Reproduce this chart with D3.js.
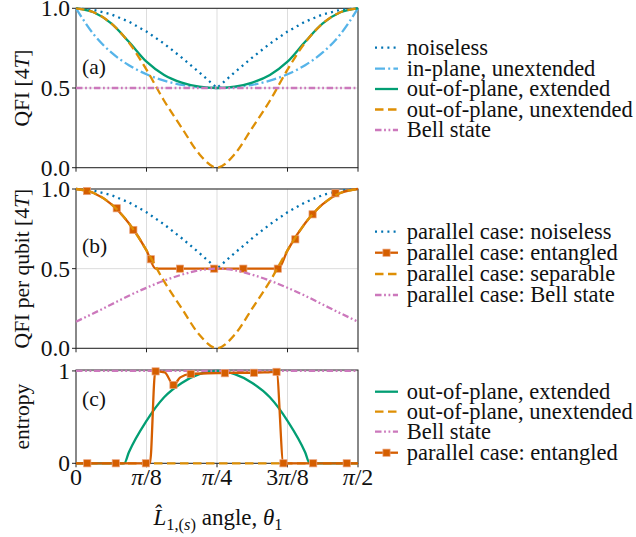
<!DOCTYPE html>
<meta charset="utf-8">
<style>
body { margin: 0; background: white; }
text { font-family: "Liberation Serif", "Times New Roman", serif; fill: #111; }
</style>
<body>
<script src="https://d3js.org/d3.v7.min.js"></script>
<script>
var width = 636,
    height = 537;

// shared angle grid, degrees (0 .. pi/2)
var thetaDeg = [0, 5.625, 11.25, 16.875, 22.5, 28.125, 33.75, 39.375, 45,
                50.625, 56.25, 61.875, 67.5, 73.125, 78.75, 84.375, 90];

// panel (a)
var noiselessA = [1, 0.990, 0.962, 0.916, 0.854, 0.778, 0.691, 0.598, 0.5, 0.598, 0.691, 0.778, 0.854, 0.916, 0.962, 0.990, 1];
var inPlaneUnext = [1, 0.837, 0.723, 0.643, 0.586, 0.546, 0.520, 0.505, 0.5, 0.505, 0.520, 0.546, 0.586, 0.643, 0.723, 0.837, 1];
var outPlaneExt = [1, 0.975, 0.905, 0.79, 0.665, 0.582, 0.534, 0.508, 0.5, 0.508, 0.534, 0.582, 0.665, 0.79, 0.905, 0.975, 1];
var outPlaneUnext = [1, 0.975, 0.905, 0.785, 0.615, 0.42, 0.25, 0.085, 0, 0.085, 0.25, 0.42, 0.615, 0.785, 0.905, 0.975, 1];
var bellA = [0.5, 0.5, 0.5, 0.5, 0.5, 0.5, 0.5, 0.5, 0.5, 0.5, 0.5, 0.5, 0.5, 0.5, 0.5, 0.5, 0.5];

// panel (b)
var noiselessB = [1, 0.990, 0.962, 0.916, 0.854, 0.778, 0.691, 0.598, 0.5, 0.598, 0.691, 0.778, 0.854, 0.916, 0.962, 0.990, 1];
var separableB = [1, 0.975, 0.905, 0.785, 0.615, 0.42, 0.25, 0.085, 0, 0.085, 0.25, 0.42, 0.615, 0.785, 0.905, 0.975, 1];
var bellB = [0.167, 0.22, 0.275, 0.33, 0.38, 0.425, 0.462, 0.49, 0.5, 0.49, 0.462, 0.425, 0.38, 0.33, 0.275, 0.22, 0.167];
var entThetaB = [0, 5.625, 11.25, 16.875, 22.5, 25.4, 33.2, 44.1, 53.4, 64.6, 67.5, 73.125, 78.75, 84.375, 90];
var entValB = [1, 0.975, 0.905, 0.785, 0.615, 0.5, 0.5, 0.5, 0.5, 0.5, 0.615, 0.785, 0.905, 0.975, 1];
var entMarkThetaB = [3.5, 13.0, 18.3, 23.9, 33.2, 44.1, 53.4, 64.4, 70.0, 75.5, 82.8];
var entMarkValB = [0.987, 0.879, 0.743, 0.559, 0.5, 0.5, 0.5, 0.5, 0.684, 0.841, 0.973];

// panel (c)
var outExtThetaC = [0, 15.4, 16.875, 22.5, 28.125, 33.75, 39.375, 45, 50.625, 56.25, 61.875, 67.5, 73.125, 74.6, 90];
var outExtValC = [0, 0, 0.12, 0.46, 0.715, 0.87, 0.965, 1, 0.965, 0.87, 0.715, 0.46, 0.12, 0, 0];
var outUnextC = [0, 0, 0, 0, 0, 0, 0, 0, 0, 0, 0, 0, 0, 0, 0, 0, 0];
var bellC = [1, 1, 1, 1, 1, 1, 1, 1, 1, 1, 1, 1, 1, 1, 1, 1, 1];
var entThetaC = [0, 3.6, 12.7, 22.3, 23.6, 25.3, 28.3, 31.1, 33.3, 36.6, 42, 47.5, 52, 56.8, 61, 64.0, 66.2, 75.7, 86.4, 90];
var entValC = [0, 0, 0, 0, 0, 0.995, 0.985, 0.848, 0.93, 0.967, 0.975, 0.977, 0.98, 0.98, 0.985, 0.99, 0, 0, 0, 0];
var entMarkThetaC = [3.6, 12.7, 22.3, 25.4, 31.1, 36.6, 47.5, 56.8, 64.0, 66.2, 75.7, 86.4];
var entMarkValC = [0, 0, 0, 0.995, 0.848, 0.967, 0.975, 0.98, 0.99, 0, 0, 0];

var xTickVals = [0, 22.5, 45, 67.5, 90];
var xTickLabels = [["", "0"], ["π", "/8"], ["π", "/4"], ["3π", "/8"], ["π", "/2"]];

var C = {
  blue: "#0173b2", lightblue: "#56b4e9", green: "#029e73",
  orange: "#de8f05", red: "#d55e00", pink: "#cc78bc"
};
var styles = {
  dotted:  { color: C.blue, dash: "2,4.2" },
  dashdot: { color: C.lightblue, dash: "10,3.2,2,3.2" },
  solidG:  { color: C.green, dash: null },
  dashed:  { color: C.orange, dash: "8.5,4.5" },
  bell:    { color: C.pink, dash: "6.5,2.6,1.8,2.6,1.8,2.6" },
  ent:     { color: C.red, dash: null, marker: true }
};

var svg = d3.select("body").append("svg")
    .attr("width", width)
    .attr("height", height);

var x = d3.scaleLinear().domain([0, 90]).range([76, 358]);

var panels = [
  { y: d3.scaleLinear().domain([0, 1]).range([167.7, 8.3]), top: 8.3, bottom: 167.7,
    ticks: [0, 0.5, 1], fmt: d3.format(".1f"), tag: "(a)", tagY: 74,
    ylabel: [["QFI [4", ""], ["T", "i"], ["]", ""]] },
  { y: d3.scaleLinear().domain([0, 1]).range([348.3, 189]), top: 189, bottom: 348.3,
    ticks: [0, 0.5, 1], fmt: d3.format(".1f"), tag: "(b)", tagY: 253,
    ylabel: [["QFI per qubit [4", ""], ["T", "i"], ["]", ""]] },
  { y: d3.scaleLinear().domain([0, 1.01]).range([463.3, 370]), top: 370, bottom: 463.3,
    ticks: [0, 1], fmt: d3.format("d"), tag: "(c)", tagY: 406,
    ylabel: [["entropy", ""]] }
];

function drawLine(g, p, xs, ys, st, curve) {
  var pts = xs.map(function(t, i) { return [t, ys[i]]; });
  var line = d3.line()
      .x(function(d) { return x(d[0]); })
      .y(function(d) { return p.y(d[1]); })
      .curve(curve || d3.curveMonotoneX);
  g.append("path")
    .datum(pts)
    .attr("d", line)
    .style("fill", "none")
    .style("stroke", st.color)
    .style("stroke-width", 2.3)
    .style("stroke-dasharray", st.dash);
}

function drawMarkers(g, p, xs, ys) {
  g.selectAll(null)
    .data(xs.map(function(t, i) { return [t, ys[i]]; }))
    .enter().append("rect")
      .attr("x", function(d) { return x(d[0]) - 3.6; })
      .attr("y", function(d) { return p.y(d[1]) - 3.6; })
      .attr("width", 7.2)
      .attr("height", 7.2)
      .style("fill", C.red)
      .style("stroke", "#eba27c")
      .style("stroke-width", 0.7);
}

panels.forEach(function(p, k) {
  var g = svg.append("g");
  // grid
  g.selectAll(null).data(xTickVals).enter().append("line")
    .attr("x1", function(d) { return x(d); }).attr("x2", function(d) { return x(d); })
    .attr("y1", p.top).attr("y2", p.bottom)
    .style("stroke", "#dddddd").style("stroke-width", 1);
  g.selectAll(null).data(p.ticks).enter().append("line")
    .attr("x1", x(0)).attr("x2", x(90))
    .attr("y1", function(d) { return p.y(d); }).attr("y2", function(d) { return p.y(d); })
    .style("stroke", "#dddddd").style("stroke-width", 1);
  // ticks
  g.selectAll(null).data(xTickVals).enter().append("line")
    .attr("x1", function(d) { return x(d); }).attr("x2", function(d) { return x(d); })
    .attr("y1", p.bottom).attr("y2", p.bottom + 4)
    .style("stroke", "#222").style("stroke-width", 1);
  g.selectAll(null).data(p.ticks).enter().append("line")
    .attr("x1", x(0) - 4).attr("x2", x(0))
    .attr("y1", function(d) { return p.y(d); }).attr("y2", function(d) { return p.y(d); })
    .style("stroke", "#222").style("stroke-width", 1);
  g.selectAll(null).data(p.ticks).enter().append("text")
    .attr("x", x(0) - 6)
    .attr("y", function(d) { return p.y(d); })
    .attr("dy", "0.34em")
    .attr("text-anchor", "end")
    .style("font-size", "23.5px")
    .text(p.fmt);
  // frame
  g.append("rect")
    .attr("x", x(0)).attr("y", p.top)
    .attr("width", x(90) - x(0)).attr("height", p.bottom - p.top)
    .style("fill", "none").style("stroke", "#222").style("stroke-width", 1);
  // panel tag
  g.append("text").attr("x", 82).attr("y", p.tagY)
    .style("font-size", "21.5px").text(p.tag);
  // y label
  var yl = g.append("text")
    .attr("transform", "translate(28.5," + ((p.top + p.bottom) / 2) + ") rotate(-90)")
    .attr("text-anchor", "middle")
    .style("font-size", "21.5px");
  p.ylabel.forEach(function(s) {
    yl.append("tspan").style("font-style", s[1] ? "italic" : null).text(s[0]);
  });
  p.g = g;
});

// panel (a)
var pa = panels[0];
drawLine(pa.g, pa, thetaDeg, noiselessA, styles.dotted, d3.curveLinear);
drawLine(pa.g, pa, thetaDeg, inPlaneUnext, styles.dashdot);
drawLine(pa.g, pa, thetaDeg, outPlaneExt, styles.solidG);
drawLine(pa.g, pa, thetaDeg, outPlaneUnext, styles.dashed);
drawLine(pa.g, pa, thetaDeg, bellA, styles.bell);

// panel (b)
var pb = panels[1];
drawLine(pb.g, pb, thetaDeg, noiselessB, styles.dotted, d3.curveLinear);
drawLine(pb.g, pb, entThetaB, entValB, styles.ent);
drawMarkers(pb.g, pb, entMarkThetaB, entMarkValB);
drawLine(pb.g, pb, thetaDeg, separableB, styles.dashed);
drawLine(pb.g, pb, thetaDeg, bellB, styles.bell);

// panel (c)
var pc = panels[2];
drawLine(pc.g, pc, outExtThetaC, outExtValC, styles.solidG);
drawLine(pc.g, pc, thetaDeg, outUnextC, styles.dashed);
drawLine(pc.g, pc, thetaDeg, bellC, styles.bell);
drawLine(pc.g, pc, entThetaC, entValC, styles.ent);
drawMarkers(pc.g, pc, entMarkThetaC, entMarkValC);

// x tick labels (bottom panel only)
svg.selectAll(null).data(xTickVals).enter().append("text")
  .attr("x", function(d) { return x(d); })
  .attr("y", 485)
  .attr("text-anchor", "middle")
  .style("font-size", "24px")
  .each(function(d, i) {
    var t = d3.select(this), lab = xTickLabels[i];
    if (lab[0] === "3π") {
      t.append("tspan").text("3");
      t.append("tspan").style("font-style", "italic").text("π");
    } else if (lab[0]) {
      t.append("tspan").style("font-style", "italic").text(lab[0]);
    }
    t.append("tspan").text(lab[1]);
  });

// x axis label
var xl = svg.append("text")
  .attr("x", 218).attr("y", 525)
  .attr("text-anchor", "middle")
  .style("font-size", "23px");
xl.append("tspan").style("font-style", "italic").text("L\u0302");
xl.append("tspan").attr("dy", 5).style("font-size", "16.5px").text("1,(");
xl.append("tspan").style("font-size", "16.5px").style("font-style", "italic").text("s");
xl.append("tspan").style("font-size", "16.5px").text(")");
xl.append("tspan").attr("dy", -5).text(" angle, ");
xl.append("tspan").style("font-style", "italic").text("θ");
xl.append("tspan").attr("dy", 5).style("font-size", "16.5px").text("1");

// legends
var legendA = ["noiseless", "in-plane, unextended", "out-of-plane, extended", "out-of-plane, unextended", "Bell state"];
var legendB = ["parallel case: noiseless", "parallel case: entangled", "parallel case: separable", "parallel case: Bell state"];
var legendC = ["out-of-plane, extended", "out-of-plane, unextended", "Bell state", "parallel case: entangled"];

function legend(items, st, rows) {
  var g = svg.append("g");
  items.forEach(function(name, i) {
    var s = st[i], yy = rows[i];
    g.append("line")
      .attr("x1", 375).attr("x2", 398).attr("y1", yy).attr("y2", yy)
      .style("stroke", s.color).style("stroke-width", 2.3)
      .style("stroke-dasharray", s.dash);
    if (s.marker) {
      g.append("rect").attr("x", 386.5 - 3.6).attr("y", yy - 3.6)
        .attr("width", 7.2).attr("height", 7.2)
        .style("fill", C.red).style("stroke", "#eba27c").style("stroke-width", 0.7);
    }
    g.append("text").attr("x", 406.7).attr("y", yy).attr("dy", "0.33em")
      .style("font-size", "22.5px").text(name);
  });
}
legend(legendA, [styles.dotted, styles.dashdot, styles.solidG, styles.dashed, styles.bell],
  [47.7, 68.7, 89, 109.5, 130]);
legend(legendB, [styles.dotted, styles.ent, styles.dashed, styles.bell],
  [231.7, 252.7, 274, 295]);
legend(legendC, [styles.solidG, styles.dashed, styles.bell, styles.ent],
  [391.7, 411.7, 431.7, 452.7]);
</script>
</body>
</html>
